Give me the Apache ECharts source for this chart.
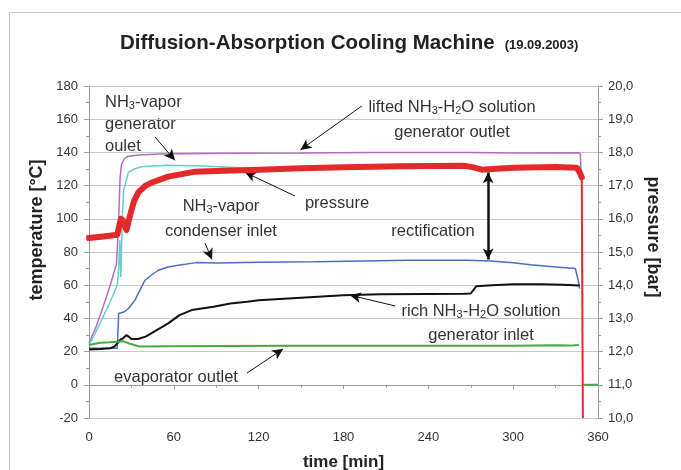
<!DOCTYPE html>
<html>
<head>
<meta charset="utf-8">
<script src="https://cdn.jsdelivr.net/npm/echarts@6/dist/echarts.min.js"></script>
<style>
  html, body { margin: 0; padding: 0; background: #fff; }
  #chart { width: 681px; height: 470px; }
</style>
</head>
<body>
<div id="chart"></div>
<script>
// time axis [min], temperatures [°C] on the left axis, pressure [bar] on the right
const xTicks = [0, 60, 120, 180, 240, 300, 360]

// lifted NH3-H2O solution, generator outlet (magenta)
const liftedTime = [0, 5, 10, 15, 19.5, 21, 22, 23, 25, 27, 35, 50, 100, 150, 200, 270, 300, 346, 347.5, 348]
const liftedTemp = [25, 35, 47, 60, 73, 100, 125, 133, 136, 137.5, 138.5, 139, 139.5, 139.6, 140, 140, 139.6, 139.8, 139.5, 128]

// NH3-vapor, generator outlet (cyan)
const vaporGenTime = [0, 5, 10, 15, 20, 21, 21.8, 22.5, 23.5, 24.5, 27.8, 32, 37, 55, 80, 100, 120, 150, 200, 270, 278, 290, 345]
const vaporGenTemp = [24, 32, 41, 50, 60, 70, 87, 65, 100, 117, 128, 130, 131.4, 132.2, 131.8, 131, 129.8, 130.2, 130.8, 131, 129.5, 130.2, 130.5]

// NH3-vapor, condenser inlet (blue)
const condTime = [0, 15, 20, 21, 25, 28, 32.5, 36, 39.6, 44, 49, 56, 63, 76, 90, 120, 160, 206, 225, 267, 284, 300, 312, 330, 344, 346, 347]
const condTemp = [22, 22, 22, 43, 44, 46, 51, 57, 63, 66, 69, 71, 72, 73.6, 73.4, 73.8, 74.2, 74.8, 75, 75, 74.6, 73.5, 72.3, 71, 70, 63, 58]

// rich NH3-H2O solution, generator inlet (black)
const richTime = [0, 8, 15, 18, 20, 22, 24, 26.6, 28, 30, 34.7, 40, 44, 50, 56, 64, 72.6, 88, 100, 111.6, 120, 150, 180, 206, 240, 265, 270, 274, 285, 300, 320, 335, 347]
const richTemp = [21.3, 21.5, 22, 23, 25, 27, 28, 30, 29, 27.6, 27.6, 29, 31, 34, 37, 42, 45, 47, 49, 50, 51, 52.5, 54, 54.6, 54.7, 54.8, 55, 59.4, 60, 60.5, 60.6, 60.2, 59.8]

// evaporator outlet (green); null marks the gap before the final reading
const evapTime = [0, 8, 15, 24, 28, 32, 36, 60, 100, 140, 200, 300, 330, 340, 346.5, 348, 349.5, 360]
const evapTemp = [24, 25.3, 25.6, 26.3, 25, 24, 23, 23.2, 23.3, 23.5, 23.5, 23.5, 23.8, 23.6, 24, null, 0, 0]

// pressure (red)
const pressTime = [0, 10, 20, 22.5, 24, 26.5, 29, 32, 35, 40, 45, 56, 75, 90, 120, 150, 180, 220, 265, 272, 278, 285, 300, 330, 345, 347, 348.5]
const pressBar = [15.42, 15.47, 15.52, 16.0, 15.95, 15.66, 16.1, 16.55, 16.8, 17.0, 17.1, 17.27, 17.42, 17.44, 17.48, 17.52, 17.55, 17.58, 17.6, 17.55, 17.48, 17.5, 17.54, 17.56, 17.54, 17.4, 17.25]
const pressDropTime = [348.5, 349.3]
const pressDropBar = [17.25, 10.0]

const pairs = (xs, ys) => xs.map((x, i) => [x, ys[i]])

const FONT = 'Liberation Sans, Arial, sans-serif'
const TXT = '#333'
const NOTE_SIZE = 16.5

const noteStyle = (lh) => ({
  fontSize: NOTE_SIZE, fontFamily: FONT, fill: TXT, lineHeight: lh,
  rich: {
    n: { fontSize: NOTE_SIZE, fontFamily: FONT, fill: TXT, lineHeight: lh },
    s: { fontSize: 11, fontFamily: FONT, fill: TXT, padding: [7, 0, 0, 0] }
  }
})

const note = (x, y, text, align, lh) => ({
  type: 'text', x: x, y: y, silent: true,
  style: Object.assign(noteStyle(lh), { text: text, textAlign: align, textVerticalAlign: 'top' })
})

const axisName = (x, y, text, rot) => ({
  type: 'text', x: x, y: y, rotation: rot, silent: true,
  style: { text: text, fontSize: 18, fontWeight: 'bold', fontFamily: FONT, fill: '#222', textAlign: 'center', textVerticalAlign: 'middle' }
})

const arrow = (from, to, both, width) => [
  { coord: from, symbol: both ? 'arrow' : 'none', lineStyle: { color: '#111', width: width || 1, type: 'solid' } },
  { coord: to, symbol: 'arrow' }
]

const chart = echarts.init(document.getElementById('chart'), null, { renderer: 'canvas' })

const option = {
  animation: false,
  backgroundColor: '#fff',
  textStyle: { fontFamily: FONT },
  title: {
    text: '{a|Diffusion-Absorption Cooling Machine}  {b|(19.09.2003)}',
    left: 115, top: 28,
    textStyle: {
      rich: {
        a: { fontSize: 20.5, fontWeight: 'bold', color: '#222', fontFamily: FONT },
        b: { fontSize: 13, fontWeight: 'bold', color: '#222', fontFamily: FONT, padding: [3, 0, 0, 0] }
      }
    }
  },
  grid: { left: 89, right: 83, top: 86, bottom: 52, outerBoundsMode: 'none' },
  xAxis: {
    type: 'value', min: 0, max: 360, interval: 60,
    name: 'time [min]', nameLocation: 'middle', nameGap: 36,
    nameTextStyle: { fontSize: 17, fontWeight: 'bold', color: '#222', fontFamily: FONT },
    axisLine: { lineStyle: { color: '#999' } },
    axisTick: { length: 4, lineStyle: { color: '#999' } },
    minorTick: { show: true, splitNumber: 2, length: 3, lineStyle: { color: '#999' } },
    axisLabel: { fontSize: 13, color: TXT, margin: 13, formatter: v => xTicks.includes(v) ? String(v) : '' },
    splitLine: { show: false }
  },
  yAxis: [
    {
      type: 'value', min: -20, max: 180, interval: 20,
      axisLine: { show: true, lineStyle: { color: '#999' } },
      axisTick: { show: true, length: 5, lineStyle: { color: '#999' } },
      minorTick: { show: true, splitNumber: 2, length: 3, lineStyle: { color: '#999' } },
      axisLabel: { fontSize: 13, color: TXT, margin: 11 },
      splitLine: { show: true, lineStyle: { color: '#c8c8c8', width: 1 } }
    },
    {
      type: 'value', min: 10, max: 20, interval: 1,
      axisLine: { show: true, lineStyle: { color: '#999' } },
      axisTick: { show: true, length: 5, lineStyle: { color: '#999' } },
      minorTick: { show: true, splitNumber: 2, length: 3, lineStyle: { color: '#999' } },
      axisLabel: { fontSize: 13, color: TXT, margin: 10, formatter: v => v.toFixed(1).replace('.', ',') },
      splitLine: { show: false }
    }
  ],
  series: [
    {
      name: 'lifted NH3-H2O solution generator outlet', type: 'line', yAxisIndex: 0,
      data: pairs(liftedTime, liftedTemp), showSymbol: false,
      lineStyle: { color: '#b46cc0', width: 1.5 }, z: 2
    },
    {
      name: 'NH3-vapor generator outlet', type: 'line', yAxisIndex: 0,
      data: pairs(vaporGenTime, vaporGenTemp), showSymbol: false,
      lineStyle: { color: '#66cccc', width: 1.5 }, z: 2
    },
    {
      name: 'NH3-vapor condenser inlet', type: 'line', yAxisIndex: 0,
      data: pairs(condTime, condTemp), showSymbol: false,
      lineStyle: { color: '#4a6fc2', width: 1.5 }, z: 3
    },
    {
      name: 'rich NH3-H2O solution generator inlet', type: 'line', yAxisIndex: 0,
      data: pairs(richTime, richTemp), showSymbol: false,
      lineStyle: { color: '#111', width: 2 }, z: 3,
      markLine: {
        silent: true, animation: false, symbolSize: [8, 11],
        label: { show: false }, emphasis: { disabled: true },
        data: [
          arrow([46.7, 149.3], [60.8, 135.2]),
          arrow([193, 168], [149.5, 141.5]),
          arrow([145.7, 113.7], [110.4, 128]),
          arrow([82, 85.4], [87, 75.5]),
          arrow([282.3, 128], [282.3, 75.5], true, 2.5),
          arrow([216.5, 47.5], [184.6, 54]),
          arrow([111.8, 7.1], [137.3, 21.6])
        ]
      }
    },
    {
      name: 'evaporator outlet', type: 'line', yAxisIndex: 0,
      data: pairs(evapTime, evapTemp), showSymbol: false, connectNulls: false,
      lineStyle: { color: '#44aa44', width: 2 }, z: 3
    },
    {
      name: 'pressure', type: 'line', yAxisIndex: 1,
      data: pairs(pressTime, pressBar), showSymbol: false,
      lineStyle: { color: '#e22a2a', width: 6, join: 'round', cap: 'round' }, z: 5
    },
    {
      name: 'pressure drop', type: 'line', yAxisIndex: 1,
      data: pairs(pressDropTime, pressDropBar), showSymbol: false,
      lineStyle: { color: '#e22a2a', width: 2 }, z: 5
    }
  ],
  graphic: [
    { type: 'rect', silent: true, shape: { x: 9.5, y: 12.5, width: 720, height: 520 }, style: { fill: 'none', stroke: '#c4c4c4', lineWidth: 1 } },
    axisName(37, 230, 'temperature [°C]', Math.PI / 2),
    axisName(653, 237, 'pressure [bar]', -Math.PI / 2),
    note(105, 91, '{n|NH}{s|3}{n|-vapor}\n{n|generator}\n{n|oulet}', 'left', 22),
    note(452, 95, '{n|lifted NH}{s|3}{n|-H}{s|2}{n|O solution}\n{n|generator outlet}', 'center', 25),
    note(337, 192, '{n|pressure}', 'center', 22),
    note(221, 194, '{n|NH}{s|3}{n|-vapor}\n{n|condenser inlet}', 'center', 25),
    note(433, 220, '{n|rectification}', 'center', 22),
    note(481, 299, '{n|rich NH}{s|3}{n|-H}{s|2}{n|O solution}\n{n|generator inlet}', 'center', 24),
    note(176, 366, '{n|evaporator outlet}', 'center', 22)
  ]
}

chart.setOption(option)
</script>
</body>
</html>
